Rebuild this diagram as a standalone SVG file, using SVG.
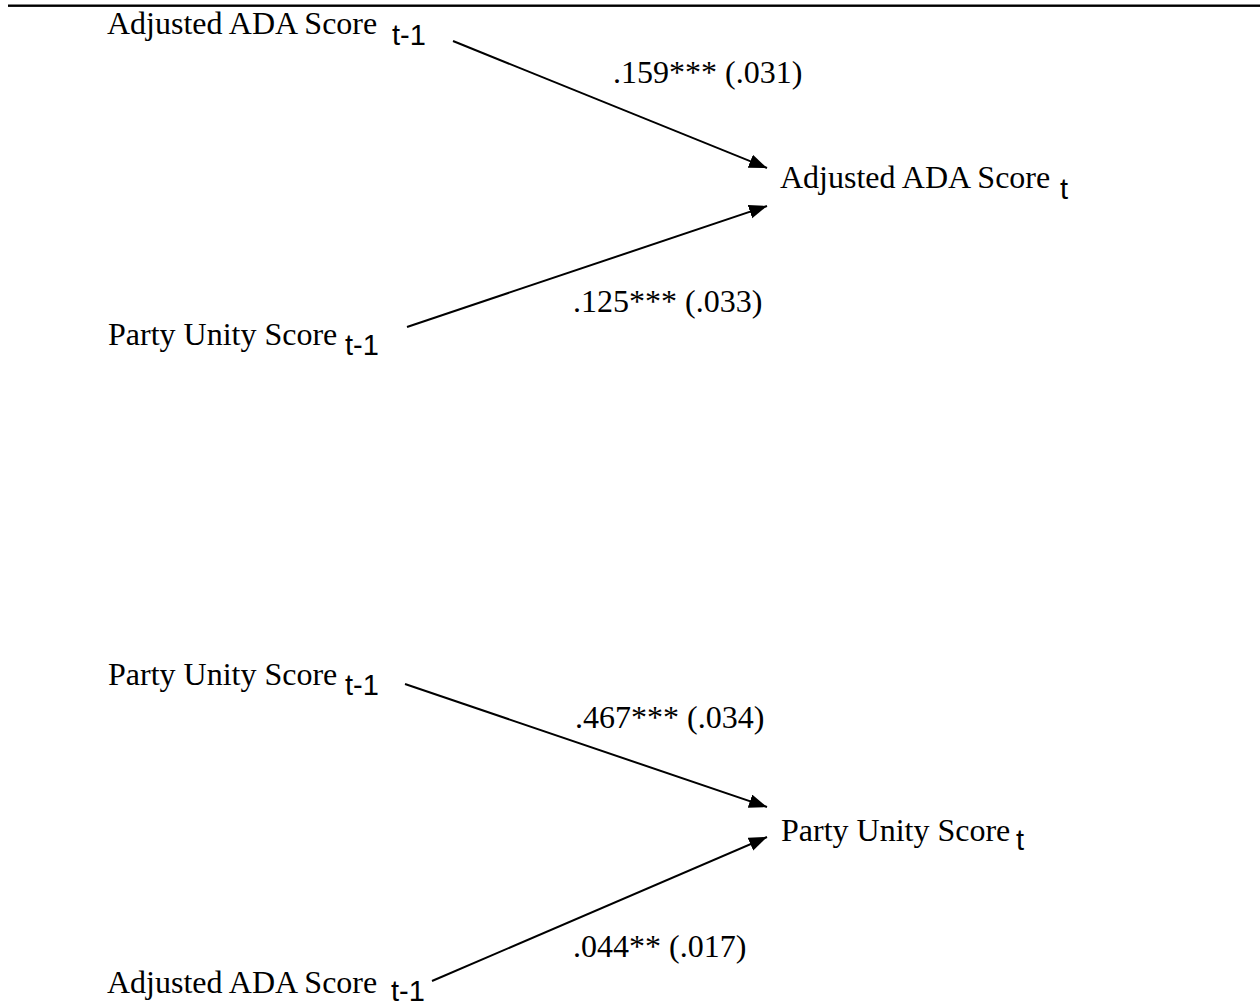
<svg xmlns="http://www.w3.org/2000/svg" width="1260" height="1007" viewBox="0 0 1260 1007">
<style>
.lbl{font-family:"Liberation Serif","Times New Roman",serif;font-size:32px;fill:#000}
.sub{font-family:"Liberation Sans",Arial,sans-serif;font-size:29px;fill:#000}
.edge{stroke:#000;stroke-width:2;fill:none;marker-end:url(#arr)}
</style>
<defs>
<marker id="arr" markerUnits="userSpaceOnUse" markerWidth="19" markerHeight="15" refX="18" refY="7" orient="auto">
<path d="M0,0 L18,7 L0,14 z" fill="#000"/>
</marker>
</defs>
<rect x="8" y="4.5" width="1252" height="2.4" fill="#000"/>
<g id="connectors">
<line class="edge" x1="453" y1="41" x2="767" y2="168"/>
<line class="edge" x1="407" y1="327" x2="767" y2="206"/>
<line class="edge" x1="405" y1="684" x2="767" y2="807"/>
<line class="edge" x1="432" y1="981" x2="767" y2="837"/>
<text class="lbl" x="613" y="83">.159*** (.031)</text>
<text class="lbl" x="573" y="312">.125*** (.033)</text>
<text class="lbl" x="575" y="728">.467*** (.034)</text>
<text class="lbl" x="573" y="957">.044** (.017)</text>
</g>
<g id="n_ada_t1_top">
<text class="lbl" x="107" y="34">Adjusted ADA Score</text>
<text class="sub" x="392" y="45">t-1</text>
</g>
<g id="n_ada_t_top">
<text class="lbl" x="780" y="188">Adjusted ADA Score</text>
<text class="sub" x="1060" y="199">t</text>
</g>
<g id="n_pu_t1_top">
<text class="lbl" x="108" y="345">Party Unity Score</text>
<text class="sub" x="345" y="355">t-1</text>
</g>
<g id="n_pu_t1_bottom">
<text class="lbl" x="108" y="685">Party Unity Score</text>
<text class="sub" x="345" y="695">t-1</text>
</g>
<g id="n_pu_t_bottom">
<text class="lbl" x="781" y="841">Party Unity Score</text>
<text class="sub" x="1016" y="850">t</text>
</g>
<g id="n_ada_t1_bottom">
<text class="lbl" x="107" y="993">Adjusted ADA Score</text>
<text class="sub" x="391" y="1001">t-1</text>
</g>
</svg>
